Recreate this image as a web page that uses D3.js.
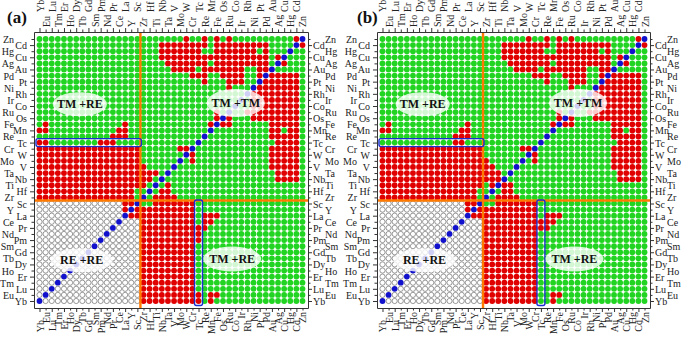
<!DOCTYPE html>
<html>
<head>
<meta charset="utf-8">
<script src="https://cdn.jsdelivr.net/npm/d3@7"></script>
<style>
  body { margin: 0; background: #fff; }
  svg { display: block; }
</style>
</head>
<body>
<svg id="chart" width="685" height="342"></svg>
<script>
// element order along both axes (index 0 = bottom / left)
const elements = ["Yb","Eu","Lu","Tm","Er","Ho","Dy","Tb","Gd","Sm","Pm","Nd","Pr","Ce","La","Y","Sc",
  "Zr","Hf","Ti","Nb","Ta","V","Mo","W","Cr","Tc","Re","Mn","Fe","Os","Ru","Co","Ir","Rh","Ni","Pt","Pd","Au","Ag","Cu","Hg","Cd","Zn"];

// one string per row, top row (Zn) first. g = green, r = red, b = blue, w = open circle
// columns: 17 rare earths | 27 transition metals
const gridA = [
  "ggggg ggggg ggggg gg | ggggg ggrgg rgrgr ggggg ggggg rb",
  "ggggg ggggg ggggg gg | gggrr rrrrr rgrrr rrrrr rgggg br",
  "ggggg ggggg ggggg gg | gggrr rrrrr ggrrr rrrrg rgggb gg",
  "ggggg ggggg ggggg gg | gggrr rrrrr rrrrr rrrrr rgrbg gg",
  "ggggg ggggg ggggg gg | ggggr rrrrr rgrrr rrrrr rgbrg gg",
  "ggggg ggggg ggggg gg | ggggg rrrrg rrrrr rrggr rbggg gg",
  "ggggg ggggg ggggg gg | ggggg gggrr rggrr rrggr brrrr rg",
  "ggggg ggggg ggggg gg | ggggg ggggg rgggr rrggb rrrrr rg",
  "ggggg ggggg ggggg gg | ggggg ggggg ggggr gggbr rrrrr rg",
  "ggggg ggggg ggggg gg | ggggg ggggg ggggg ggbrr rrrrr rg",
  "ggggg ggggg ggggg gg | ggggg ggggg ggggg gbgrr rrrrr rg",
  "ggggg ggggg ggggg gg | ggggg ggggg ggggg bggrr rrrrr rg",
  "ggggg ggggg ggggg gg | ggggg ggggg ggrgb ggrrr rrrrr rg",
  "ggggg ggggg ggggg gg | ggggg ggggg ggrbr gggrr rrrrr rg",
  "grggg ggggg ggggr gg | ggggg ggggg grbrr ggggg grrrr rg",
  "rrggg ggggg gggrr gg | ggggg ggggg gbggg ggggg grrgr rg",
  "ggggg ggggg ggrrr gg | ggggg ggggg bgggg ggggg grrrr rg",
  "rrggg ggggg rrrgg gg | ggggg ggggb ggggg ggggg ggrrr rg",
  "rrrrr rrrrr rrrrr rr | ggggg grrbg ggggg ggggg grrrr rg",
  "rrrrr rrrrr rrrrr rr | ggggg ggbrg ggggg ggggg grrrr rg",
  "rrrrr rrrrr rrrrr rr | ggggg gbgrg ggggg ggggg grrrr rg",
  "rrrrr rrrrr rrrrr rr | rgggg bgggg ggggg ggggg grrrr rg",
  "rrrrr rrrrr rrrrr rr | rrrgb ggggg ggggg ggggg ggrrr rg",
  "rrrrr rrrrr rrrrr rr | rrgbg ggggg ggggg ggggg ggrrr rg",
  "rrrrr rrrrr rrrrr rr | rgbgr ggggg ggggg ggggg ggggg gg",
  "rrrrr rrrrr rrrrr rg | gbgrr ggggg ggggg ggggg ggggg gg",
  "rrrrr rrrrr rrrrr rg | bgrrr rgggg ggggg ggggg ggggg gg",
  "wwwww wwwww wwwwr rb | ggrrr rrrrg ggggg ggggg ggggg gg",
  "wwwww wwwww wwwwr br | rrrrr rrrrg ggggg ggggg ggggg gg",
  "wwwww wwwww wwwwb rr | rrrrr rrrrg rrrgg ggggg ggggg gg",
  "wwwww wwwww wwwbw ww | rrrrr rrrrg rrggg ggggg ggggg gg",
  "wwwww wwwww wwbww ww | rrrrr rrrrr rgggg ggggg ggggg gg",
  "wwwww wwwww wbwww ww | rrrrr rrrrr ggggg ggggg ggggg gg",
  "wwwww wwwww bwwww ww | rrrrr rrrrr ggggg ggggg ggggg gg",
  "wwwww wwwwb wwwww ww | rrrrr rrrrg ggggg ggggg ggggg gg",
  "wwwww wwwbw wwwww ww | rrrrr rrrrg ggggg ggggg ggggg gg",
  "wwwww wwbww wwwww ww | rrrrr rrrrg ggggg ggggg ggggg gg",
  "wwwww wbwww wwwww ww | rrrrr rrrrg ggggg ggggg ggggg gg",
  "wwwww bwwww wwwww ww | rrrrr rrrrg ggggg ggggg ggggg gg",
  "wwwwb wwwww wwwww ww | rrrrr rrrrg ggggg ggggg ggggg gg",
  "wwwbw wwwww wwwww ww | rrrrr rrrrg ggggg ggggg ggggg gg",
  "wwbww wwwww wwwww ww | rrrrr rrrrg ggggg ggggg ggggg gg",
  "wbwww wwwww wwwww ww | rrrrr rrrrr grrgg ggggg ggggg gg",
  "bwwww wwwww wwwww ww | rrrrr rrrrr grggg ggggg ggggg gg"
];

const gridB = [
  "ggggg ggggg ggggg gg | ggggg ggrgg rgrgr ggggg ggggg rb",
  "ggggg ggggg ggggg gg | gggrr rrrrr rgrrr rrrrr rgggg br",
  "ggggg ggggg ggggg gg | gggrr rrrrr ggrrr rrrrg rgggb gg",
  "ggggg ggggg ggggg gg | gggrr rrrrr rrrrr rrrrr rgrbg gg",
  "ggggg ggggg ggggg gg | ggggr rrrrr rgrrr rrrrr rgbrg gg",
  "ggggg ggggg ggggg gg | ggggg rrrrg rrrrr rrggr rbggg gg",
  "ggggg ggggg ggggg gg | ggggg gggrr rggrr rrggr brrrr rg",
  "ggggg ggggg ggggg gg | ggggg ggggg rgggr rrggb rrrrr rg",
  "ggggg ggggg ggggg gg | ggggg ggggg ggggr gggbr rrrrr rg",
  "ggggg ggggg ggggg gg | ggggg ggggg ggggg ggbrr rrrrr rg",
  "ggggg ggggg ggggg gg | ggggg ggggg ggggg gbgrr rrrrr rg",
  "ggggg ggggg ggggg gg | ggggg ggggg ggggg bggrr rrrrr rg",
  "ggggg ggggg ggggg gg | ggggg ggggg ggrgb ggrrr rrrrr rg",
  "ggggg ggggg ggggg gg | ggggg ggggg ggrbr gggrr rrrrr rg",
  "grggg ggggg ggggr gg | ggggg ggggg grbrr ggggg grrrr rg",
  "rrggg ggggg gggrr gg | ggggg ggggg gbggg ggggg grrgr rg",
  "ggggg ggggg ggrrr gg | ggggg ggggg bgggg ggggg grrrr rg",
  "ggggg ggggg ggrrg gg | ggggg ggggb ggggg ggggg ggrrr rg",
  "rrrrr rrrrr rrrrr rr | ggggg grrbg ggggg ggggg grrrr rg",
  "rrrrr rrrrr rrrrr rr | ggggg ggbrg ggggg ggggg grrrr rg",
  "rrrrr rrrrr rrrrr rr | rgggg gbgrg ggggg ggggg grrrr rg",
  "rrrrr rrrrr rrrrr rr | rrggg bgggg ggggg ggggg grrrr rg",
  "rrrrr rrrrr rrrrr rr | rrrgb ggggg ggggg ggggg ggrrr rg",
  "rrrrr rrrrr rrrrr rr | rrrbg ggggg ggggg ggggg ggrrr rg",
  "rrrrr rrrrr rrrrr rr | grbrr ggggg ggggg ggggg ggggg gg",
  "rrrrr rrrrr rrrrr rg | gbgrr ggggg ggggg ggggg ggggg gg",
  "rrrrr rrrrr rrrrr rg | bgrrr rgggg ggggg ggggg ggggg gg",
  "wwwww wwwww wwwwr rb | ggrrr rrrrg ggggg ggggg ggggg gg",
  "wwwww wwwww wwwwr br | rrrrr rrrrg ggggg ggggg ggggg gg",
  "wwwww wwwww wwwwb rr | rrrrr rrrrg rrrgg ggggg ggggg gg",
  "wwwww wwwww wwwbw ww | rrrrr rrrrr rrggg ggggg ggggg gg",
  "wwwww wwwww wwbww ww | rrrrr rrrrr rgggg ggggg ggggg gg",
  "wwwww wwwww wbwww ww | rrrrr rrrrg ggggg ggggg ggggg gg",
  "wwwww wwwww bwwww ww | rrrrr rrrrg ggggg ggggg ggggg gg",
  "wwwww wwwwb wwwww ww | rrrrr rrrrg ggggg ggggg ggggg gg",
  "wwwww wwwbw wwwww ww | rrrrr rrrrg ggggg ggggg ggggg gg",
  "wwwww wwbww wwwww ww | rrrrr rrrrg ggggg ggggg ggggg gg",
  "wwwww wbwww wwwww ww | rrrrr rrrrg ggggg ggggg ggggg gg",
  "wwwww bwwww wwwww ww | rrrrr rrrrg ggggg ggggg ggggg gg",
  "wwwwb wwwww wwwww ww | rrrrr rrrrg ggggg ggggg ggggg gg",
  "wwwbw wwwww wwwww ww | rrrrr rrrrg ggggg ggggg ggggg gg",
  "wwbww wwwww wwwww ww | rrrrr rrrrg ggggg ggggg ggggg gg",
  "wbwww wwwww wwwww ww | rrrrr rrrrg grrgg ggggg ggggg gg",
  "bwwww wwwww wwwww ww | rrrrr rrrrg grggg ggggg ggggg gg"
];

const panelNames = ["(a)", "(b)"];
const zoneNames = ["TM +RE", "TM +TM", "RE +RE", "TM +RE"];

// layout
const colors = { g: "#22d422", r: "#e10000", b: "#1212cc", w: "#ffffff" };
const zoneSpots = [ // centre in element-index units, radii in px
  { col: 6.6, row: 32.3, rx: 27, ry: 12 },
  { col: 32.1, row: 32.5, rx: 29, ry: 14 },
  { col: 6.9, row: 6.7, rx: 31, ry: 12 },
  { col: 31.5, row: 6.9, rx: 29, ry: 12.5 }
];
const panels = [
  { name: panelNames[0], grid: gridA, left: 34, right: 308, labelX: 7 },
  { name: panelNames[1], grid: gridB, left: 377, right: 650, labelX: 357 }
];
const plotTop = 32, plotBottom = 308;
const font = "'Liberation Serif', 'Times New Roman', serif";

const svg = d3.select("#chart");

panels.forEach(p => {
  const g = svg.append("g");
  const x = d3.scalePoint().domain(elements).range([p.left, p.right]).padding(0.9);
  const y = d3.scalePoint().domain(elements).range([plotBottom, plotTop]).padding(1.15);
  const xi = d3.scaleLinear().domain([0, elements.length - 1]).range([x(elements[0]), x(elements[elements.length - 1])]);
  const yi = d3.scaleLinear().domain([0, elements.length - 1]).range([y(elements[0]), y(elements[elements.length - 1])]);

  const cells = [];
  p.grid.forEach((line, t) => {
    const chars = line.replace(/[\s|]/g, "");
    if (chars.length !== elements.length) throw new Error(`${p.name} row ${t} has ${chars.length} cells`);
    const rowEl = elements[elements.length - 1 - t];
    chars.split("").forEach((ch, c) => cells.push({ row: rowEl, col: elements[c], v: ch }));
  });

  g.append("g").selectAll("circle")
    .data(cells)
    .enter().append("circle")
    .attr("cx", d => x(d.col))
    .attr("cy", d => y(d.row))
    .attr("r", d => d.v === "w" ? 2.6 : 2.9)
    .attr("fill", d => colors[d.v])
    .attr("stroke", d => d.v === "w" ? "#555" : "none")
    .attr("stroke-width", 0.6);

  // RE / TM separators
  const sepX = (x("Sc") + x("Zr")) / 2;
  const sepY = (y("Sc") + y("Zr")) / 2;
  g.append("line").attr("x1", sepX).attr("x2", sepX).attr("y1", plotTop).attr("y2", plotBottom)
    .attr("stroke", "#ff7a00").attr("stroke-width", 2.4);
  g.append("line").attr("x1", p.left).attr("x2", p.right).attr("y1", sepY).attr("y2", sepY)
    .attr("stroke", "#ff7a00").attr("stroke-width", 2.4);

  // Tc highlight boxes
  g.append("rect")
    .attr("x", x("Yb") - 3.5).attr("y", y("Tc") - 4)
    .attr("width", x("Sc") - x("Yb") + 7.5).attr("height", 8)
    .attr("rx", 2).attr("fill", "none").attr("stroke", "#1a2fd0").attr("stroke-width", 1.4);
  g.append("rect")
    .attr("x", x("Tc") - 4).attr("y", y("Sc") - 3.5)
    .attr("width", 8).attr("height", y("Yb") - y("Sc") + 8)
    .attr("rx", 2).attr("fill", "none").attr("stroke", "#1a2fd0").attr("stroke-width", 1.4);

  // zone labels
  zoneSpots.forEach((z, i) => {
    g.append("ellipse")
      .attr("cx", xi(z.col)).attr("cy", yi(z.row))
      .attr("rx", z.rx).attr("ry", z.ry)
      .attr("fill", "#fff").attr("fill-opacity", 0.8);
    g.append("text")
      .attr("x", xi(z.col)).attr("y", yi(z.row) + 4)
      .attr("text-anchor", "middle")
      .style("font-family", font).style("font-weight", "bold").style("font-size", "12px")
      .attr("fill", "#111")
      .text(zoneNames[i]);
  });

  const tickLen = i => i % 2 === 0 ? 4 : 2.5;
  const styleAxis = a => {
    a.attr("font-family", null).attr("font-size", null);
    a.select(".domain").attr("stroke", "#333");
    a.selectAll(".tick line").attr("stroke", "#333");
    a.selectAll(".tick text").style("font-family", font).style("font-size", "10px").attr("fill", "#222");
  };

  g.append("g").attr("transform", `translate(${p.left},0)`)
    .call(d3.axisLeft(y).tickSizeOuter(0))
    .call(styleAxis)
    .call(a => {
      a.selectAll(".tick line").attr("x2", (d, i) => -tickLen(i));
      a.selectAll(".tick text").attr("x", (d, i) => i % 2 === 0 ? -7 : -20).attr("dy", "0.35em");
    });

  g.append("g").attr("transform", `translate(${p.right},0)`)
    .call(d3.axisRight(y).tickSizeOuter(0))
    .call(styleAxis)
    .call(a => {
      a.selectAll(".tick line").attr("x2", (d, i) => tickLen(i));
      a.selectAll(".tick text").attr("x", (d, i) => i % 2 === 0 ? 5 : 17).attr("dy", "0.35em");
    });

  g.append("g").attr("transform", `translate(0,${plotTop})`)
    .call(d3.axisTop(x).tickSizeOuter(0))
    .call(styleAxis)
    .call(a => {
      a.selectAll(".tick line").attr("y2", (d, i) => -tickLen(i));
      a.selectAll(".tick text")
        .attr("x", 0).attr("y", 0).attr("dy", "0.35em")
        .attr("text-anchor", "start")
        .attr("transform", (d, i) => `translate(0,${i % 2 === 0 ? -20 : -5}) rotate(-90)`);
    });

  g.append("g").attr("transform", `translate(0,${plotBottom})`)
    .call(d3.axisBottom(x).tickSizeOuter(0))
    .call(styleAxis)
    .call(a => {
      a.selectAll(".tick line").attr("y2", (d, i) => tickLen(i));
      a.selectAll(".tick text")
        .attr("x", 0).attr("y", 0).attr("dy", "0.35em")
        .attr("text-anchor", "end")
        .attr("transform", (d, i) => `translate(0,${i % 2 === 0 ? 12 : 4}) rotate(-90)`);
    });

  svg.append("text")
    .attr("x", p.labelX).attr("y", 23)
    .style("font-family", font).style("font-weight", "bold").style("font-size", "17px")
    .attr("fill", "#111")
    .text(p.name);
});
</script>
</body>
</html>
